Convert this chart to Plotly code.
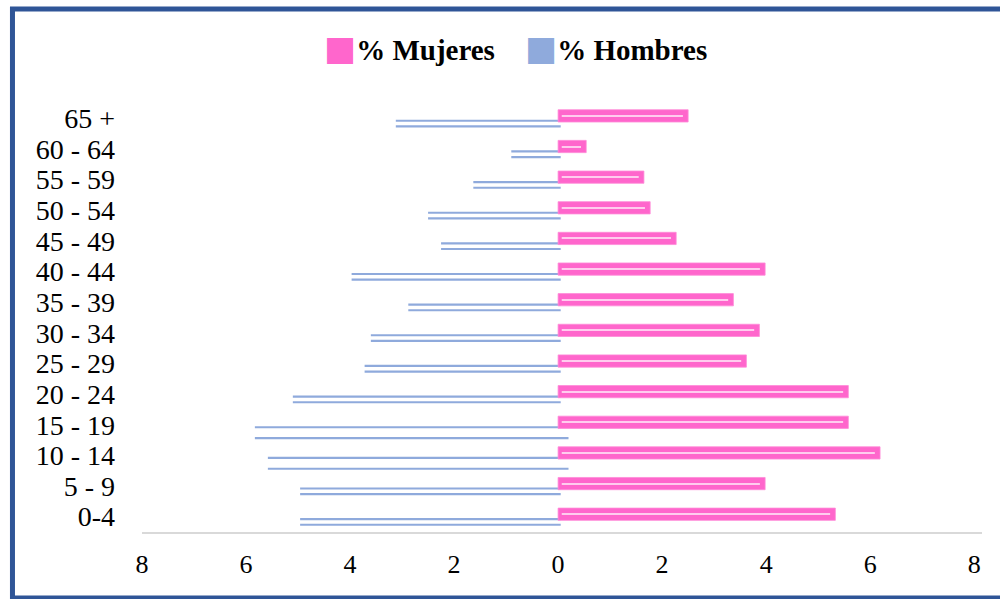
import plotly.graph_objects as go

# ---- data ----
grupos = ["0-4", "5 - 9", "10 - 14", "15 - 19", "20 - 24", "25 - 29", "30 - 34",
          "35 - 39", "40 - 44", "45 - 49", "50 - 54", "55 - 59", "60 - 64", "65 +"]
mujeres = [5.33, 3.98, 6.19, 5.58, 5.58, 3.62, 3.87, 3.37, 3.98, 2.27, 1.77, 1.65, 0.54, 2.50]
hombres = [4.96, 4.96, 5.58, 5.83, 5.10, 3.72, 3.60, 2.88, 3.97, 2.25, 2.50, 1.63, 0.90, 3.12]
tick_vals = [-8, -6, -4, -2, 0, 2, 4, 6, 8]
tick_text = ["8", "6", "4", "2", "0", "2", "4", "6", "8"]
serie_names = ["% Mujeres", "% Hombres"]

# ---- styles ----
PINK = "#FF66CC"
PINK_EDGE = "#FF8AD8"
BLUE = "#8FAADC"
FRAME = "#2F5597"
FONT = "Liberation Serif"
# bottom blue line: offset (category units) and right overhang past zero
blue_low_offset = [-0.30, -0.30, -0.47, -0.47, -0.30, -0.30, -0.30,
                   -0.30, -0.30, -0.30, -0.30, -0.30, -0.30, -0.30]
blue_low_over = [0.05, 0.05, 0.20, 0.20, 0.05, 0.05, 0.05,
                 0.05, 0.05, 0.05, 0.05, 0.05, 0.05, 0.05]
LINE_W = 0.07

fig = go.Figure()

# blue: two thin horizontal strokes per group
fig.add_trace(go.Bar(
    y=grupos, x=[-h - 0.05 for h in hombres], base=0.05, orientation="h",
    width=LINE_W, offset=-0.115, marker=dict(color=BLUE, line=dict(width=0)),
    name=serie_names[1], showlegend=False, hoverinfo="skip"))
fig.add_trace(go.Bar(
    y=grupos, x=[-h - o for h, o in zip(hombres, blue_low_over)], base=blue_low_over,
    orientation="h", width=LINE_W, offset=blue_low_offset,
    marker=dict(color=BLUE, line=dict(width=0)),
    name=serie_names[1], showlegend=False, hoverinfo="skip"))

# pink bars with light inner stroke
fig.add_trace(go.Bar(
    y=grupos, x=mujeres, orientation="h", width=0.40, offset=-0.12,
    marker=dict(color=PINK, line=dict(color=PINK_EDGE, width=0.8)),
    name=serie_names[0], showlegend=False))
fig.add_trace(go.Bar(
    y=grupos, x=[m - 0.17 for m in mujeres], base=0.07, orientation="h",
    width=0.035, offset=0.062,
    marker=dict(color="#FFCCEE", line=dict(width=0)),
    showlegend=False, hoverinfo="skip"))

# legend drawn as text: coloured square glyph + bold label
legend_items = [(serie_names[0], PINK, 0.214), (serie_names[1], BLUE, 0.453)]
annotations = []
for name, col, xpos in legend_items:
    annotations.append(dict(
        xref="paper", yref="paper", x=xpos, y=1.128, xanchor="left", yanchor="middle",
        showarrow=False,
        text=f'<span style="color:{col};font-size:34px;font-family:DejaVu Sans">■</span><b>{name}</b>',
        font=dict(family=FONT, size=29, color="black")))

fig.update_layout(
    width=1000, height=599,
    margin=dict(l=142, r=18, t=103, b=67),
    paper_bgcolor="white", plot_bgcolor="white",
    barmode="overlay",
    showlegend=False,
    annotations=annotations,
    xaxis=dict(range=[-8, 8.15], tickvals=tick_vals, ticktext=tick_text,
               showgrid=False, zeroline=False, showline=True, linecolor="#D9D9D9",
               linewidth=2, ticks="", ticklabelstandoff=8,
               tickfont=dict(family=FONT, size=26, color="black")),
    yaxis=dict(range=[-0.5, 13.5], type="category", tickmode="array",
               tickvals=grupos, ticktext=grupos,
               showgrid=False, zeroline=False, showline=False,
               ticks="", ticklabelstandoff=26,
               tickfont=dict(family=FONT, size=28, color="black")),
    shapes=[dict(type="rect", xref="paper", yref="paper",
                 x0=-0.1542, x1=1.04, y0=-0.1538, y1=1.219,
                 line=dict(color=FRAME, width=5), fillcolor="rgba(0,0,0,0)", layer="below")],
)

fig.write_html("out.html")
